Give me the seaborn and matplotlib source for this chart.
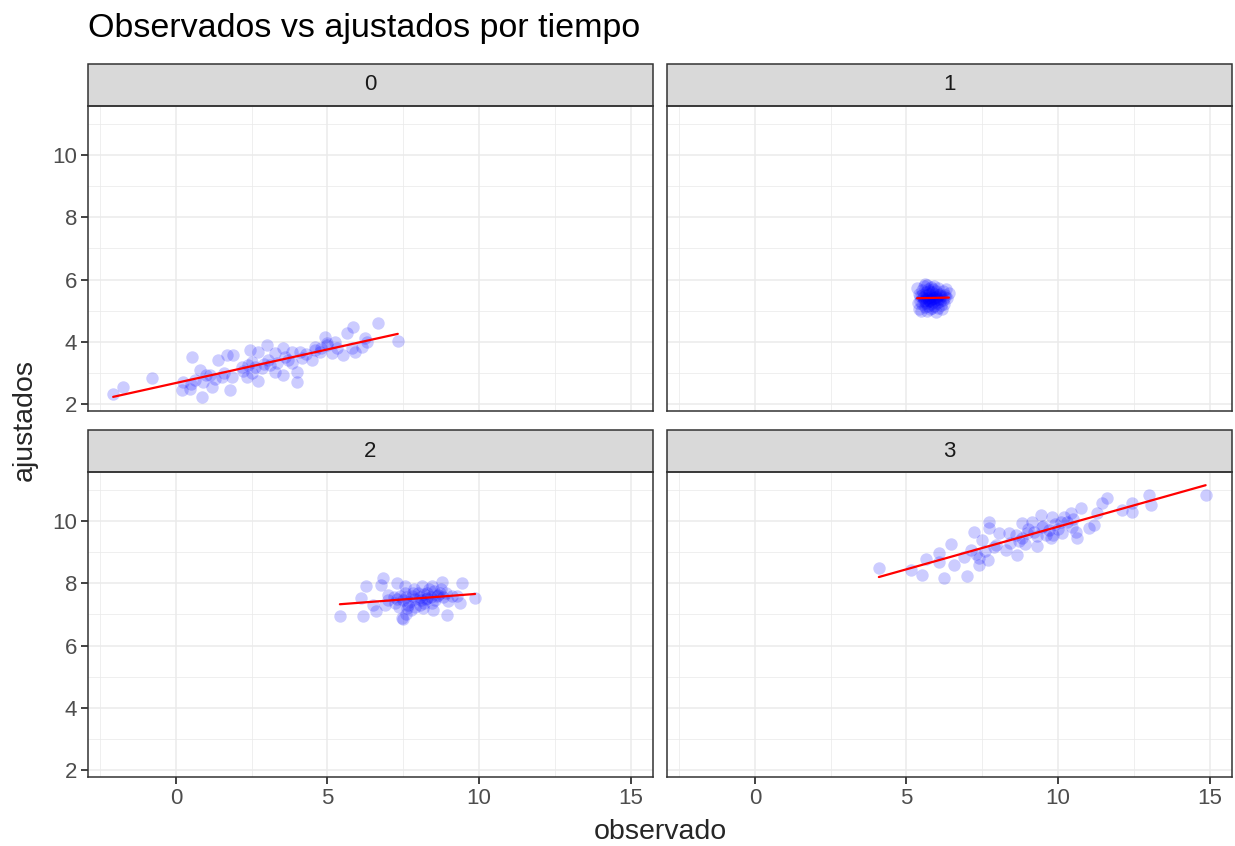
import numpy as np
import pandas as pd
import matplotlib
matplotlib.use("Agg")
import matplotlib.pyplot as plt
import matplotlib.patches as mpatches
from matplotlib.ticker import MultipleLocator
import seaborn as sns

# datos (observado, ajustado) por tiempo
obs_t0 = [-2.07, -1.74, -0.80, 0.52, 0.24, 0.21, 0.46, 0.79, 0.85, 0.63, 1.12, 1.18, 1.51, 1.40,
          1.67, 1.89, 1.78, 1.84, 2.17, 2.39, 2.44, 2.50, 2.33, 2.70, 2.72, 2.83, 2.99, 3.05,
          3.27, 3.32, 3.27, 3.54, 3.54, 3.71, 3.82, 3.82, 3.98, 3.98, 4.09, 4.15, 4.48, 4.59,
          4.75, 4.92, 4.97, 5.14, 5.25, 5.52, 5.63, 5.80, 5.85, 5.91, 6.13, 6.24, 6.29, 6.66,
          7.32, 2.60, 2.90, 3.10, 2.50, 1.30, 0.90, 4.30, 4.80, 5.00, 1.00, 2.20, 3.60, 4.60,
          5.30, 0.50, 1.60]
fit_t0 = [2.32, 2.54, 2.83, 3.52, 2.72, 2.45, 2.50, 3.09, 2.22, 2.77, 2.93, 2.54, 2.88, 3.41,
          3.57, 3.57, 2.45, 2.88, 3.20, 3.25, 3.73, 3.36, 2.88, 2.75, 3.68, 3.15, 3.89, 3.41,
          3.63, 3.31, 3.04, 3.79, 2.93, 3.41, 3.68, 3.31, 3.04, 2.72, 3.68, 3.47, 3.41, 3.84,
          3.68, 4.16, 3.95, 3.63, 4.00, 3.57, 4.27, 3.79, 4.48, 3.68, 3.84, 4.11, 4.00, 4.59,
          4.03, 3.20, 3.30, 3.25, 3.00, 2.80, 2.70, 3.60, 3.80, 3.90, 2.95, 3.05, 3.50, 3.75,
          3.80, 2.65, 3.00]

obs_t1 = [5.35, 5.40, 5.42, 5.45, 5.48, 5.50, 5.52, 5.55, 5.58, 5.60, 5.62, 5.63, 5.65, 5.66,
          5.68, 5.70, 5.71, 5.72, 5.74, 5.75, 5.77, 5.78, 5.80, 5.81, 5.82, 5.84, 5.85, 5.87,
          5.88, 5.90, 5.91, 5.93, 5.95, 5.96, 5.98, 6.00, 6.02, 6.04, 6.05, 6.08, 6.10, 6.12,
          6.15, 6.18, 6.20, 6.22, 6.25, 6.28, 6.30, 6.35, 6.40, 5.38, 5.44, 5.53, 5.60, 5.69,
          5.76, 5.83, 5.92, 6.07, 5.57, 5.64, 5.73, 5.86, 5.97, 6.13, 5.51, 5.79, 6.01, 6.26]
fit_t1 = [5.72, 5.55, 5.05, 5.30, 4.98, 5.65, 5.20, 5.45, 5.78, 5.12, 5.35, 5.60, 5.50, 5.25,
          5.82, 5.40, 5.15, 5.68, 5.30, 5.52, 5.05, 5.45, 5.75, 5.22, 5.38, 5.60, 5.48, 5.28,
          5.70, 5.15, 5.42, 5.55, 5.35, 4.95, 5.62, 5.25, 5.45, 5.72, 5.10, 5.38, 5.55, 5.30,
          5.48, 5.05, 5.62, 5.35, 5.20, 5.45, 5.68, 5.40, 5.58, 5.25, 5.48, 5.40, 5.85, 5.00,
          5.62, 5.10, 5.78, 5.50, 5.30, 5.42, 5.35, 5.40, 5.45, 5.18, 5.50, 5.32, 5.38, 5.50]

obs_t2 = [5.41, 6.18, 6.60, 6.10, 6.27, 6.84, 6.76, 7.28, 7.01, 7.23, 7.45, 7.56, 7.61, 7.83,
          8.05, 8.11, 8.27, 8.44, 8.49, 8.66, 8.77, 8.93, 8.99, 9.26, 9.37, 9.43, 9.87, 7.30,
          7.40, 7.50, 7.60, 7.70, 7.80, 7.90, 8.00, 8.10, 8.20, 8.30, 8.40, 8.50, 8.60, 8.70,
          8.80, 7.20, 7.65, 7.90, 8.20, 8.35, 8.55, 7.00, 7.55, 8.05, 8.45, 8.75, 9.10, 7.35,
          7.75, 8.15, 6.90, 8.90, 8.25, 7.85, 6.50, 7.50, 7.60]
fit_t2 = [6.94, 6.96, 7.12, 7.53, 7.90, 8.17, 7.95, 8.01, 7.63, 7.37, 6.89, 7.90, 7.21, 7.69,
          7.31, 7.90, 7.53, 7.90, 7.15, 7.63, 8.03, 6.99, 7.42, 7.58, 7.37, 8.01, 7.53, 7.50,
          7.60, 7.45, 7.55, 7.40, 7.60, 7.50, 7.70, 7.45, 7.65, 7.70, 7.55, 7.75, 7.60, 7.70,
          7.55, 7.55, 7.30, 7.25, 7.35, 7.80, 7.45, 7.45, 7.70, 7.55, 7.35, 7.80, 7.60, 7.25,
          7.15, 7.20, 7.30, 7.70, 7.50, 7.80, 7.30, 6.85, 7.00]

obs_t3 = [4.09, 5.14, 5.52, 6.24, 7.01, 5.63, 6.07, 6.07, 6.46, 6.57, 7.12, 7.39, 7.39, 7.23,
          7.50, 7.72, 7.72, 7.94, 8.05, 8.27, 8.38, 8.66, 8.71, 8.82, 8.99, 9.15, 9.32, 9.43,
          9.46, 9.76, 9.81, 10.14, 10.20, 10.42, 10.47, 10.64, 10.75, 11.02, 11.19, 11.30,
          11.44, 11.63, 12.12, 12.45, 12.45, 13.00, 13.06, 14.87, 9.00, 9.20, 9.50, 9.70,
          9.90, 10.00, 10.10, 10.30, 8.60, 8.80, 9.30, 9.60, 8.40, 7.90, 7.60, 7.30, 6.90,
          10.50, 10.60, 9.85, 7.70, 8.90]
fit_t3 = [8.49, 8.41, 8.27, 8.17, 8.24, 8.78, 8.97, 8.67, 9.25, 8.59, 9.07, 8.81, 8.59, 9.66,
          9.39, 9.98, 9.77, 9.23, 9.61, 9.07, 9.61, 8.91, 9.34, 9.93, 9.61, 9.98, 9.18, 10.19,
          9.82, 9.45, 10.14, 9.61, 10.14, 10.25, 9.82, 9.45, 10.41, 9.77, 9.87, 10.25, 10.57,
          10.73, 10.35, 10.30, 10.57, 10.83, 10.51, 10.83, 9.75, 9.65, 9.85, 9.70, 9.90, 9.75,
          9.95, 9.95, 9.55, 9.45, 9.50, 9.55, 9.30, 9.15, 9.05, 8.95, 8.85, 10.05, 9.65, 9.55,
          8.75, 9.25]

tiempos = [0, 1, 2, 3]
obs_all = [obs_t0, obs_t1, obs_t2, obs_t3]
fit_all = [fit_t0, fit_t1, fit_t2, fit_t3]

df = pd.concat([pd.DataFrame({"observado": o, "ajustados": f, "tiempo": t})
                for o, f, t in zip(obs_all, fit_all, tiempos)], ignore_index=True)

sns.set_style("white")
plt.rcParams["font.family"] = ["Liberation Sans", "DejaVu Sans"]

g = sns.lmplot(data=df, x="observado", y="ajustados", col="tiempo", col_wrap=2,
               col_order=tiempos, ci=None, truncate=True,
               scatter_kws={"color": "blue", "alpha": 0.2, "s": 80, "linewidths": 0},
               line_kws={"color": "red", "lw": 1.6})
fig = g.figure
fig.set_size_inches(12.35, 8.46)
fig.set_dpi(100)

W, H = 1235, 846
# posiciones de paneles en pixeles (izq, arriba, der, abajo)
boxes = [(88, 106, 653, 411), (667, 106, 1232, 411),
         (88, 472, 653, 777), (667, 472, 1232, 777)]
strip_h = 42

g.set_titles("")
g.set_axis_labels("", "")
for i, ax in enumerate(g.axes.flat):
    l, t, r, b = boxes[i]
    ax.set_position([l / W, 1 - b / H, (r - l) / W, (b - t) / H])
    ax.set_xlim(-2.9, 15.74)
    ax.set_ylim(1.78, 11.57)
    ax.set_xticks([0, 5, 10, 15])
    ax.set_yticks([2, 4, 6, 8, 10])
    ax.xaxis.set_minor_locator(MultipleLocator(2.5))
    ax.yaxis.set_minor_locator(MultipleLocator(1))
    ax.grid(True, which="major", color="#EBEBEB", lw=1.1)
    ax.grid(True, which="minor", color="#EBEBEB", lw=0.55)
    ax.set_axisbelow(True)
    for s in ax.spines.values():
        s.set_visible(True)
        s.set_color("#333333")
        s.set_linewidth(1.1)
    ax.tick_params(axis="both", which="major", length=5, width=1.3, color="#333333",
                   labelcolor="#4D4D4D", labelsize=16, direction="out",
                   bottom=True, left=True, pad=3)
    ax.tick_params(which="minor", length=0)
    sh = strip_h / (b - t)
    ax.add_patch(mpatches.Rectangle((0, 1), 1, sh, transform=ax.transAxes,
                                    facecolor="#D9D9D9", edgecolor="#333333",
                                    lw=1.1, clip_on=False))
    ax.text(0.5, 1 + sh / 2, str(tiempos[i]), transform=ax.transAxes,
            ha="center", va="center", fontsize=16, color="#1A1A1A")
    if i % 2 == 1:
        ax.tick_params(axis="y", left=False, labelleft=False)
    if i < 2:
        ax.tick_params(axis="x", bottom=False, labelbottom=False)

fig.text(88 / W, 1 - 29 / H, "Observados vs ajustados por tiempo", fontsize=24.5,
         ha="left", va="center", color="black")
fig.text(660 / W, 1 - 832 / H, "observado", fontsize=20.5, ha="center", va="center")
fig.text(25 / W, 1 - 420 / H, "ajustados", fontsize=20.5, ha="center", va="center",
         rotation=90)

fig.savefig("out.png", dpi=100)
